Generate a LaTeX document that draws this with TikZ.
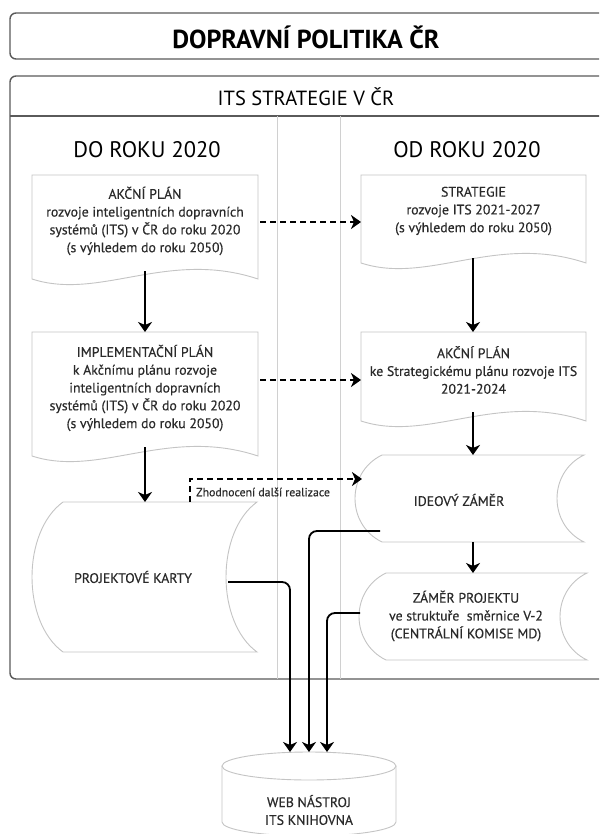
\documentclass[tikz,border=0pt]{standalone}
\usepackage{fontspec}
\setmainfont{PT Sans}
\newfontfamily\boxfont[FakeBold=0.35]{PT Sans}
\usetikzlibrary{arrows.meta,calc}
\definecolor{boxline}{HTML}{5A5A5A}
\definecolor{shapeline}{HTML}{C4C4C4}
\definecolor{txt}{HTML}{2A2A2A}
\definecolor{divline}{HTML}{D0D0D0}

\newcommand{\docshape}[1]{%
  \draw[shp] (#1.north west) -- (#1.north east) -- (#1.south east)
    .. controls ($(#1.south west)!0.6!(#1.south east)+(0,-30)$) and ($(#1.south west)!0.3!(#1.south east)+(0,22)$) .. (#1.south west) -- cycle;}
\newcommand{\storedshape}[2]{%
  \draw[shp] ($(#1.north west)+(#2,0)$) -- (#1.north east)
    .. controls ($(#1.north east)!0.2!(#1.south east)+({-4/3*#2},0)$) and ($(#1.north east)!0.8!(#1.south east)+({-4/3*#2},0)$) .. (#1.south east)
    -- ($(#1.south west)+(#2,0)$)
    .. controls ($(#1.north west)!0.8!(#1.south west)+({-#2/3},0)$) and ($(#1.north west)!0.2!(#1.south west)+({-#2/3},0)$) .. ($(#1.north west)+(#2,0)$) -- cycle;}

\begin{document}
\begin{tikzpicture}[x=1pt,y=-1pt,
  outer/.style={draw=boxline, line width=1.4pt, rounded corners=6pt},
  shp/.style={draw=shapeline, line width=0.9pt, fill=white},
  anchorbox/.style={inner sep=0pt, outer sep=0pt},
  boxtext/.style={font=\boxfont\fontsize{13.8}{17.8}\selectfont, text=txt, align=center, inner sep=0pt},
  flow/.style={draw=black, line width=1.8pt, -{Stealth[length=10pt,width=14pt,inset=3pt]}},
  dflow/.style={flow, dash pattern=on 6pt off 4pt},
  link/.style={flow, rounded corners=8pt},
]
\useasboundingbox (0,0) rectangle (599,834);
\clip (0,0) rectangle (599,834);
\fill[white] (0,0) rectangle (599,834);

% frames
\draw[outer] (10,13) rectangle (640,59);
\node[font=\bfseries\fontsize{26}{28}\selectfont] (title) at (306,37) {DOPRAVNÍ POLITIKA ČR};
\draw[outer] (10,76) rectangle (640,679);
\draw[boxline, line width=1.4pt] (10,116) -- (640,116);
\draw[divline, line width=0.8pt] (277,116) -- (277,679) (340,116) -- (340,679);
\node[font=\fontsize{20.5}{22}\selectfont] (its) at (306,97) {ITS STRATEGIE V ČR};
\node[font=\fontsize{22.5}{24}\selectfont] (do) at (147,150) {DO ROKU 2020};
\node[font=\fontsize{22.5}{24}\selectfont] (od) at (467,150) {OD ROKU 2020};

% document shapes
\node[anchorbox, minimum width=226pt, minimum height=104pt] (a1) at (145,227) {};
\docshape{a1}
\node[boxtext] (a1t) at (145,221) {AKČNÍ PLÁN\\rozvoje inteligentních dopravních\\systémů (ITS) v ČR do roku 2020\\(s výhledem do roku 2050)};

\node[anchorbox, minimum width=226pt, minimum height=124pt] (a2) at (145,394) {};
\docshape{a2}
\node[boxtext] (a2t) at (145,388) {IMPLEMENTAČNÍ PLÁN\\k Akčnímu plánu rozvoje\\inteligentních dopravních\\systémů (ITS) v ČR do roku 2020\\(s výhledem do roku 2050)};

\node[anchorbox, minimum width=225pt, minimum height=88pt] (s1) at (473.5,219) {};
\docshape{s1}
\node[boxtext] (s1t) at (473.5,211) {STRATEGIE\\rozvoje ITS 2021-2027\\(s výhledem do roku 2050)};

\node[anchorbox, minimum width=225pt, minimum height=89pt] (s2) at (473.5,376.5) {};
\docshape{s2}
\node[boxtext] (s2t) at (473.5,370) {AKČNÍ PLÁN\\ke Strategickému plánu rozvoje ITS\\2021-2024};

% stored data shapes
\node[anchorbox, minimum width=225pt, minimum height=150pt] (pk) at (144.5,577) {};
\storedshape{pk}{31}
\node[boxtext] (pkt) at (133,577) {PROJEKTOVÉ KARTY};

\node[anchorbox, minimum width=229pt, minimum height=87pt] (id) at (469.5,498.5) {};
\storedshape{id}{27}
\node[boxtext] (idt) at (459,500) {IDEOVÝ ZÁMĚR};

\node[anchorbox, minimum width=228pt, minimum height=87pt] (zp) at (473,616.5) {};
\storedshape{zp}{27}
\node[boxtext] (zpt) at (466,616) {ZÁMĚR PROJEKTU\\ve struktuře\ \ směrnice V-2\\(CENTRÁLNÍ KOMISE MD)};

% cylinder
\node[anchorbox, minimum width=174pt, minimum height=84pt] (web) at (309,794) {};
\draw[shp] (222,766) -- (222,822) arc[start angle=180, end angle=0, x radius=87, y radius=14] -- (396,766);
\draw[shp] (309,766) ellipse [x radius=87, y radius=14];
\node[boxtext] (webt) at (309,810) {WEB NÁSTROJ\\ITS KNIHOVNA};

% connectors
\coordinate (a1out) at (145,271);
\draw[flow] (a1out) -- (a2.north);
\coordinate (a2out) at (145,447);
\draw[flow] (a2out) -- (a2out |- pk.north);
\coordinate (s1out) at (473,258);
\draw[flow] (s1out) -- (s1out |- s2.north);
\coordinate (s2out) at (473,412);
\draw[flow] (s2out) -- (s2out |- id.north);
\draw[flow] (s2out |- id.south) -- (s2out |- zp.north);

\coordinate (d1) at (260,222);
\draw[dflow] (d1) -- (d1 -| s1.west);
\coordinate (d2) at (260,380);
\draw[dflow] (d2) -- (d2 -| s2.west);

\coordinate (fb) at (190,502);
\coordinate (idin) at (362,479);
\draw[dflow] (fb |- pk.north) |- (idin);
\node[font=\boxfont\fontsize{11.8}{13}\selectfont, text=txt, anchor=west, inner sep=0pt] (fbl) at (196,492) {Zhodnocení další realizace};

\coordinate (pkout) at (228,582);
\draw[link] (pkout) -| ($(web.north)+(-19,0)$);
\coordinate (idout) at (380,531);
\draw[link] (idout) -| (web.north);
\coordinate (zpout) at (360,613);
\draw[link] (zpout) -| ($(web.north)+(18,0)$);
\end{tikzpicture}
\end{document}
